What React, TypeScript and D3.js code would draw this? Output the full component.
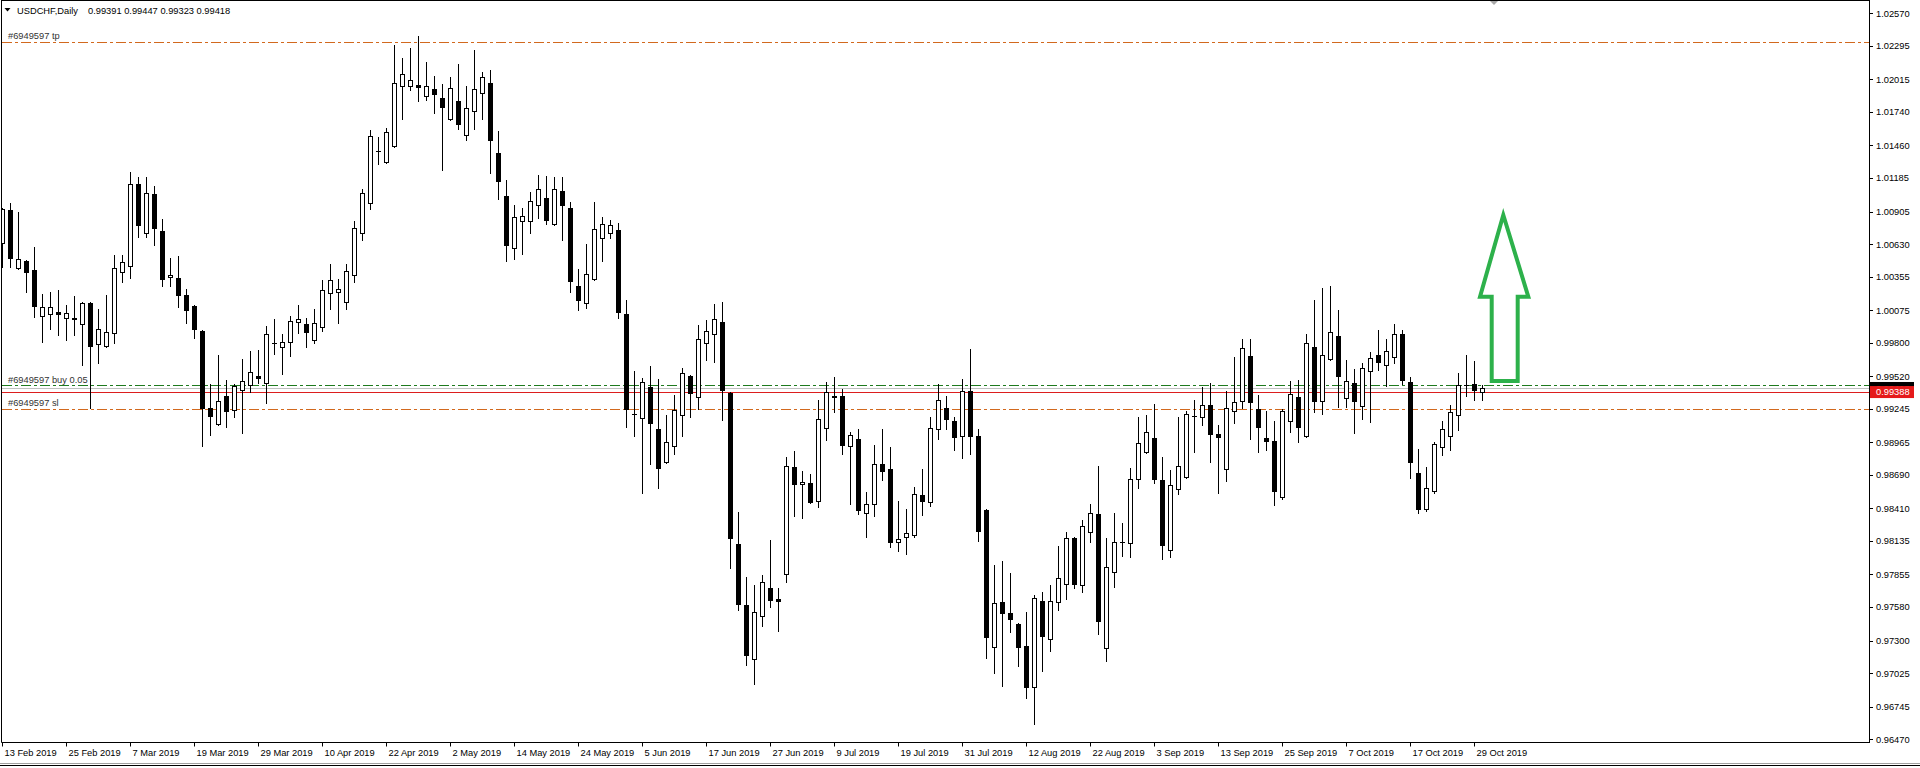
import React from 'react';
import * as d3 from 'd3';

const opens = [1.00637,1.00919,1.00428,1.0049,1.00414,1.00024,1.00041,1.00058,1.00009,1.00009,0.99958,1.00134,0.99789,0.99778,0.99882,1.004,1.0045,1.01137,1.00722,1.01053,1.00742,1.00352,1.00346,1.00204,1.00111,0.99902,0.99257,0.99122,0.99356,0.99235,0.99407,0.99444,0.9952,0.99461,0.998,0.99764,0.99811,0.99975,0.99961,0.99823,0.99933,1.00219,1.00233,1.00148,1.00369,1.00722,1.00974,1.01415,1.01319,1.01455,1.01957,1.01957,1.01966,1.01873,1.01935,1.01858,1.01686,1.0183,1.01545,1.01748,1.01898,1.01982,1.01395,1.01034,1.00598,1.00824,1.00824,1.00957,1.01017,1.00799,1.01076,1.00932,1.00278,1.00137,1.00335,1.0068,1.00725,1.0075,1.00043,0.99206,0.99167,0.99432,0.99076,0.98798,0.98932,0.99198,0.9952,0.9935,0.99797,0.99873,0.99978,0.99381,0.9811,0.97599,0.97147,0.97504,0.97741,0.97648,0.97863,0.98759,0.98612,0.98624,0.98476,0.99082,0.99353,0.99356,0.98932,0.98994,0.98369,0.98445,0.98787,0.98742,0.98126,0.98168,0.98191,0.98522,0.98462,0.99076,0.99255,0.99145,0.99017,0.99393,0.9902,0.98398,0.97249,0.97625,0.97532,0.97436,0.97255,0.96913,0.97631,0.97311,0.97622,0.97773,0.9816,0.97764,0.98214,0.98361,0.97241,0.97874,0.98129,0.98118,0.98655,0.98887,0.99,0.98647,0.98061,0.9857,0.98672,0.9919,0.99178,0.99277,0.99037,0.9874,0.99229,0.99311,0.99692,0.99243,0.99,0.98975,0.98502,0.99142,0.99348,0.9902,0.99764,0.99311,0.99664,0.9986,0.99336,0.99461,0.99269,0.99563,0.99701,0.99613,0.99681,0.99874,0.9947,0.98709,0.98403,0.98554,0.98927,0.9902,0.99192,0.9945,0.99453,0.99391];
const highs = [1.00931,1.00979,1.00902,1.00498,1.00606,1.00213,1.0023,1.00247,1.0012,1.00199,1.00148,1.00148,1.00086,1.00204,1.00538,1.00538,1.01237,1.01197,1.01197,1.0112,1.00843,1.00518,1.00532,1.00255,1.0012,0.9991,0.99453,0.99701,0.99489,0.99455,0.99664,0.99735,0.99743,0.99944,1.00003,0.99879,1.00027,1.0012,1.0001,1.00084,1.0033,1.00465,1.00338,1.00465,1.00827,1.01096,1.0159,1.01528,1.01607,1.02305,1.02195,1.02279,1.02381,1.02161,1.02045,1.01977,1.02036,1.02144,1.0196,1.02265,1.02081,1.02095,1.01581,1.01166,1.0096,1.00932,1.01073,1.01214,1.01206,1.01194,1.01197,1.00986,1.00423,1.00632,1.00986,1.00861,1.00835,1.0081,1.00162,0.99568,0.99503,0.99607,0.99497,0.99195,0.99361,0.99588,0.99531,0.99952,0.99995,1.00128,1.00145,0.99392,0.98377,0.97834,0.9777,0.97851,0.98148,0.97741,0.98844,0.98894,0.98725,0.987,0.99322,0.99472,0.99517,0.99415,0.99053,0.99081,0.9855,0.98946,0.99078,0.98923,0.98476,0.98408,0.9859,0.9874,0.99178,0.99455,0.99356,0.99181,0.99501,0.99752,0.99079,0.98408,0.97931,0.9797,0.97869,0.97444,0.97543,0.97684,0.9771,0.97767,0.98095,0.98211,0.98174,0.98313,0.98448,0.98768,0.9816,0.98375,0.9829,0.98751,0.99181,0.99195,0.99288,0.98841,0.98734,0.99181,0.99229,0.99322,0.99433,0.99461,0.99111,0.99393,0.99681,0.99831,0.99831,0.99362,0.99226,0.99145,0.99243,0.99478,0.99492,0.99874,1.00162,1.00261,1.00281,1.00078,0.99659,0.99582,0.9963,0.99723,0.9991,0.99834,0.99961,0.9991,0.99518,0.9891,0.98762,0.98966,0.99145,0.9928,0.99549,0.99701,0.9965,0.99447];
const lows = [1.00436,1.00436,1.00422,1.00232,1.00017,0.99811,0.99921,0.99868,0.99826,0.99868,0.99616,0.99251,0.9963,0.99769,0.99797,1.00309,1.00349,1.00688,1.00688,1.00623,1.0028,1.0028,1.00106,0.99967,0.99845,0.98935,0.99026,0.99112,0.99098,0.99175,0.99046,0.99392,0.99461,0.99294,0.99709,0.99537,0.99687,0.99888,0.99769,0.99798,0.99897,1.00089,0.99967,1.00089,1.00316,1.00669,1.00924,1.01302,1.01313,1.01448,1.01686,1.01929,1.01836,1.01844,1.01736,1.01257,1.01677,1.01601,1.01508,1.01601,1.01686,1.01232,1.01008,1.00493,1.00505,1.00552,1.00728,1.00849,1.00804,1.00792,1.00663,1.00233,1.00081,1.00098,1.00329,1.00493,1.0068,1.00009,0.99098,0.99022,0.98536,0.98787,0.98584,0.9879,0.9887,0.99022,0.99175,0.99246,0.99655,0.99644,0.99155,0.97913,0.9756,0.97097,0.96938,0.97425,0.97585,0.97377,0.97795,0.98349,0.98332,0.98456,0.98423,0.98983,0.99223,0.9887,0.98451,0.98361,0.98172,0.98349,0.98646,0.98089,0.98055,0.9803,0.98166,0.98355,0.98434,0.98997,0.99079,0.98901,0.98834,0.98867,0.9814,0.97156,0.97031,0.96919,0.97369,0.97086,0.9682,0.96596,0.97046,0.97216,0.97558,0.97651,0.97739,0.9771,0.98132,0.97352,0.97131,0.97753,0.98007,0.97998,0.98585,0.98879,0.98627,0.97981,0.98001,0.98528,0.98666,0.98887,0.99111,0.98799,0.98537,0.98644,0.99125,0.99252,0.98994,0.98887,0.98901,0.98437,0.98493,0.99054,0.98972,0.99014,0.99223,0.99207,0.9966,0.99266,0.99266,0.99042,0.99159,0.99139,0.99574,0.99439,0.9963,0.99453,0.98663,0.98369,0.98392,0.98537,0.98855,0.98901,0.99066,0.99356,0.99325,0.99323];
const closes = [1.00923,1.00512,1.00507,1.004,1.00114,1.001,1.00103,1.00041,1.00049,1.00005,1.00134,0.99778,0.99916,0.9989,1.00428,1.00484,1.01137,1.00792,1.01058,1.00767,1.0034,1.00369,1.00207,1.0008,0.99921,0.99257,0.99189,0.99314,0.99232,0.99438,0.99481,0.99557,0.99503,0.99874,0.99797,0.99811,0.99984,1.00003,0.99896,0.99967,1.00244,1.00327,1.00253,1.00403,1.00765,1.01059,1.01536,1.01412,1.0157,1.01982,1.02059,1.02008,1.01954,1.01957,1.01895,1.01781,1.0194,1.01638,1.01773,1.01932,1.02033,1.01502,1.0116,1.00621,1.00858,1.00866,1.00991,1.01093,1.00838,1.01093,1.00957,1.00324,1.00165,1.00378,1.00756,1.00799,1.0079,1.00063,0.99243,0.992,0.99469,0.9913,0.98753,0.98966,0.99234,0.99545,0.99378,0.99831,0.99899,1.0,0.99409,0.98163,0.97609,0.97181,0.9754,0.97792,0.97643,0.97628,0.98767,0.98618,0.98632,0.98468,0.99161,0.99392,0.9935,0.98946,0.99028,0.984,0.98448,0.98784,0.98728,0.98131,0.98154,0.98202,0.98528,0.98471,0.99082,0.99319,0.99164,0.99014,0.99393,0.99022,0.98223,0.97326,0.97617,0.97535,0.97484,0.97249,0.96913,0.97656,0.97342,0.97631,0.97823,0.9816,0.97773,0.98259,0.98369,0.97467,0.97919,0.98126,0.98125,0.98655,0.98958,0.99051,0.98661,0.98106,0.98604,0.98765,0.99201,0.99186,0.99277,0.99034,0.99008,0.99252,0.99302,0.99757,0.99308,0.99091,0.9898,0.98554,0.99226,0.9937,0.99091,0.99798,0.99311,0.99698,0.99891,0.99526,0.99478,0.99311,0.99588,0.99673,0.99644,0.99732,0.99874,0.99487,0.98799,0.98403,0.98579,0.98949,0.99076,0.99218,0.99444,0.99446,0.99404,0.99418];

const priceTicks = [1.0257,1.02295,1.02015,1.0174,1.0146,1.01185,1.00905,1.0063,1.00355,1.00075,0.998,0.9952,0.99245,0.98965,0.9869,0.9841,0.98135,0.97855,0.9758,0.973,0.97025,0.96745,0.9647];
const dateTickIndex = [0,8,16,24,32,40,48,56,64,72,80,88,96,104,112,120,128,136,144,152,160,168,176,184];
const dateTickLabels = ["13 Feb 2019","25 Feb 2019","7 Mar 2019","19 Mar 2019","29 Mar 2019","10 Apr 2019","22 Apr 2019","2 May 2019","14 May 2019","24 May 2019","5 Jun 2019","17 Jun 2019","27 Jun 2019","9 Jul 2019","19 Jul 2019","31 Jul 2019","12 Aug 2019","22 Aug 2019","3 Sep 2019","13 Sep 2019","25 Sep 2019","7 Oct 2019","17 Oct 2019","29 Oct 2019"];

const headerSymbol = "USDCHF,Daily";
const headerValues = "0.99391 0.99447 0.99323 0.99418";
const tpLevel = 1.02332;
const buyLevel = 0.99446;
const bidLevel = 0.99418;
const markLevel = 0.99388;
const slLevel = 0.99244;
const arrowBar = [187.6, 190.73, 189.4, 189.4, 186.15, 186.15, 184.69];
const arrowPrice = [1.00876, 1.00189, 1.00189, 0.99481, 0.99481, 1.00189, 1.00189];

const FONT = "'Liberation Sans', Arial, sans-serif";

export default function App() {
  const plotLeft = 1.5, plotRight = 1869.5, plotTop = 0.5, plotBottom = 742.5;
  const x = d3.scaleLinear().domain([0, 1]).range([2.5, 10.5]);
  const y = d3.scaleLinear().domain([0.9647, 1.0257]).range([739.3, 13.4]);
  const ry = (v: number) => Math.round(y(v)) + 0.5;

  const candles = opens.map((o, i) => {
    const c = closes[i], h = highs[i], l = lows[i];
    const cx = x(i);
    const top = Math.round(y(Math.max(o, c)));
    const bot = Math.round(y(Math.min(o, c)));
    const bull = c >= o;
    return (
      <g key={i}>
        <line x1={cx} x2={cx} y1={Math.round(y(h))} y2={Math.round(y(l)) + 1} stroke="#000" strokeWidth={1} />
        {bot - top >= 1 ? (
          <rect x={cx - 2} y={top + 0.5} width={4} height={bot - top} fill={bull ? '#fff' : '#000'} stroke="#000" strokeWidth={1} />
        ) : (
          <line x1={cx - 2.5} x2={cx + 2.5} y1={top + 0.5} y2={top + 0.5} stroke="#000" strokeWidth={1} />
        )}
      </g>
    );
  });

  const arrowPts = arrowBar.map((b, k) => `${x(b)},${y(arrowPrice[k])}`).join(' ');
  const dashDot = '10,3,3,3';

  return (
    <svg width={1920} height={768} style={{ position: 'absolute', left: 0, top: 0, display: 'block', background: '#fff' }}
      fontFamily={FONT}>
      <defs>
        <clipPath id="plotClip">
          <rect x={2} y={1} width={plotRight - 2} height={plotBottom - 1} />
        </clipPath>
      </defs>
      <rect x={0} y={0} width={1920} height={768} fill="#fff" />
      {/* level lines */}
      <g clipPath="url(#plotClip)">
        <line x1={2} x2={plotRight} y1={ry(tpLevel)} y2={ry(tpLevel)} stroke="#D2691E" strokeDasharray={dashDot} />
        <line x1={2} x2={plotRight} y1={ry(buyLevel)} y2={ry(buyLevel)} stroke="#1E7A1E" strokeDasharray={dashDot} />
        <line x1={2} x2={plotRight} y1={ry(bidLevel)} y2={ry(bidLevel)} stroke="#C0C0C0" />
        <line x1={2} x2={plotRight} y1={ry(markLevel)} y2={ry(markLevel)} stroke="#DC1E1E" />
        <line x1={2} x2={plotRight} y1={ry(slLevel)} y2={ry(slLevel)} stroke="#D2691E" strokeDasharray={dashDot} />
        {candles}
        <polygon points={arrowPts} fill="none" stroke="#2DB14B" strokeWidth={4} strokeLinejoin="miter" />
      </g>
      {/* order labels */}
      <g fontSize={9.3} fill="#333">
        <text x={8} y={y(tpLevel) - 3}>#6949597 tp</text>
        <text x={8} y={y(buyLevel) - 2}>#6949597 buy 0.05</text>
        <text x={8} y={y(slLevel) - 3}>#6949597 sl</text>
      </g>
      {/* header */}
      <polygon points="4.5,8 10.5,8 7.5,11.5" fill="#000" />
      <text x={17} y={14} fontSize={9.3} fill="#000">{headerSymbol}</text>
      <text x={88} y={14} fontSize={9.3} fill="#000">{headerValues}</text>
      {/* chart shift marker */}
      <polygon points="1489,0 1499,0 1494,5" fill="#A8A8A8" />
      {/* frame */}
      <line x1={plotLeft} x2={plotLeft} y1={0} y2={plotBottom} stroke="#000" />
      <line x1={plotRight} x2={plotRight} y1={0} y2={plotBottom + 0.5} stroke="#000" />
      <line x1={plotLeft} x2={plotRight} y1={plotBottom} y2={plotBottom} stroke="#000" />
      <line x1={plotLeft} x2={plotRight} y1={plotTop} y2={plotTop} stroke="#000" />
      {/* price axis */}
      <g fontSize={9.3} fill="#000">
        {priceTicks.map((v, k) => (
          <g key={k}>
            <line x1={1870} x2={1873} y1={ry(v)} y2={ry(v)} stroke="#000" />
            <text x={1876} y={y(v)} dy="0.35em">{v.toFixed(5)}</text>
          </g>
        ))}
      </g>
      {/* current price labels */}
      <rect x={1870} y={y(bidLevel) - 6.5} width={44} height={13} fill="#000" />
      <text x={1876} y={y(bidLevel)} dy="0.35em" fontSize={9.3} fill="#fff">{bidLevel.toFixed(5)}</text>
      <rect x={1870} y={y(markLevel) - 6} width={44} height={12} fill="#E51A1A" />
      <text x={1876} y={y(markLevel)} dy="0.35em" fontSize={9.3} fill="#fff">{markLevel.toFixed(5)}</text>
      {/* time axis */}
      <g fontSize={9.3} fill="#000">
        {dateTickIndex.map((b, k) => (
          <g key={k}>
            <line x1={x(b)} x2={x(b)} y1={plotBottom} y2={plotBottom + 4} stroke="#000" />
            <text x={x(b) + 2} y={756}>{dateTickLabels[k]}</text>
          </g>
        ))}
      </g>
      <line x1={0} x2={1920} y1={763.5} y2={763.5} stroke="#A0A0A0" />
      <line x1={0} x2={1920} y1={765.5} y2={765.5} stroke="#000" />
    </svg>
  );
}
